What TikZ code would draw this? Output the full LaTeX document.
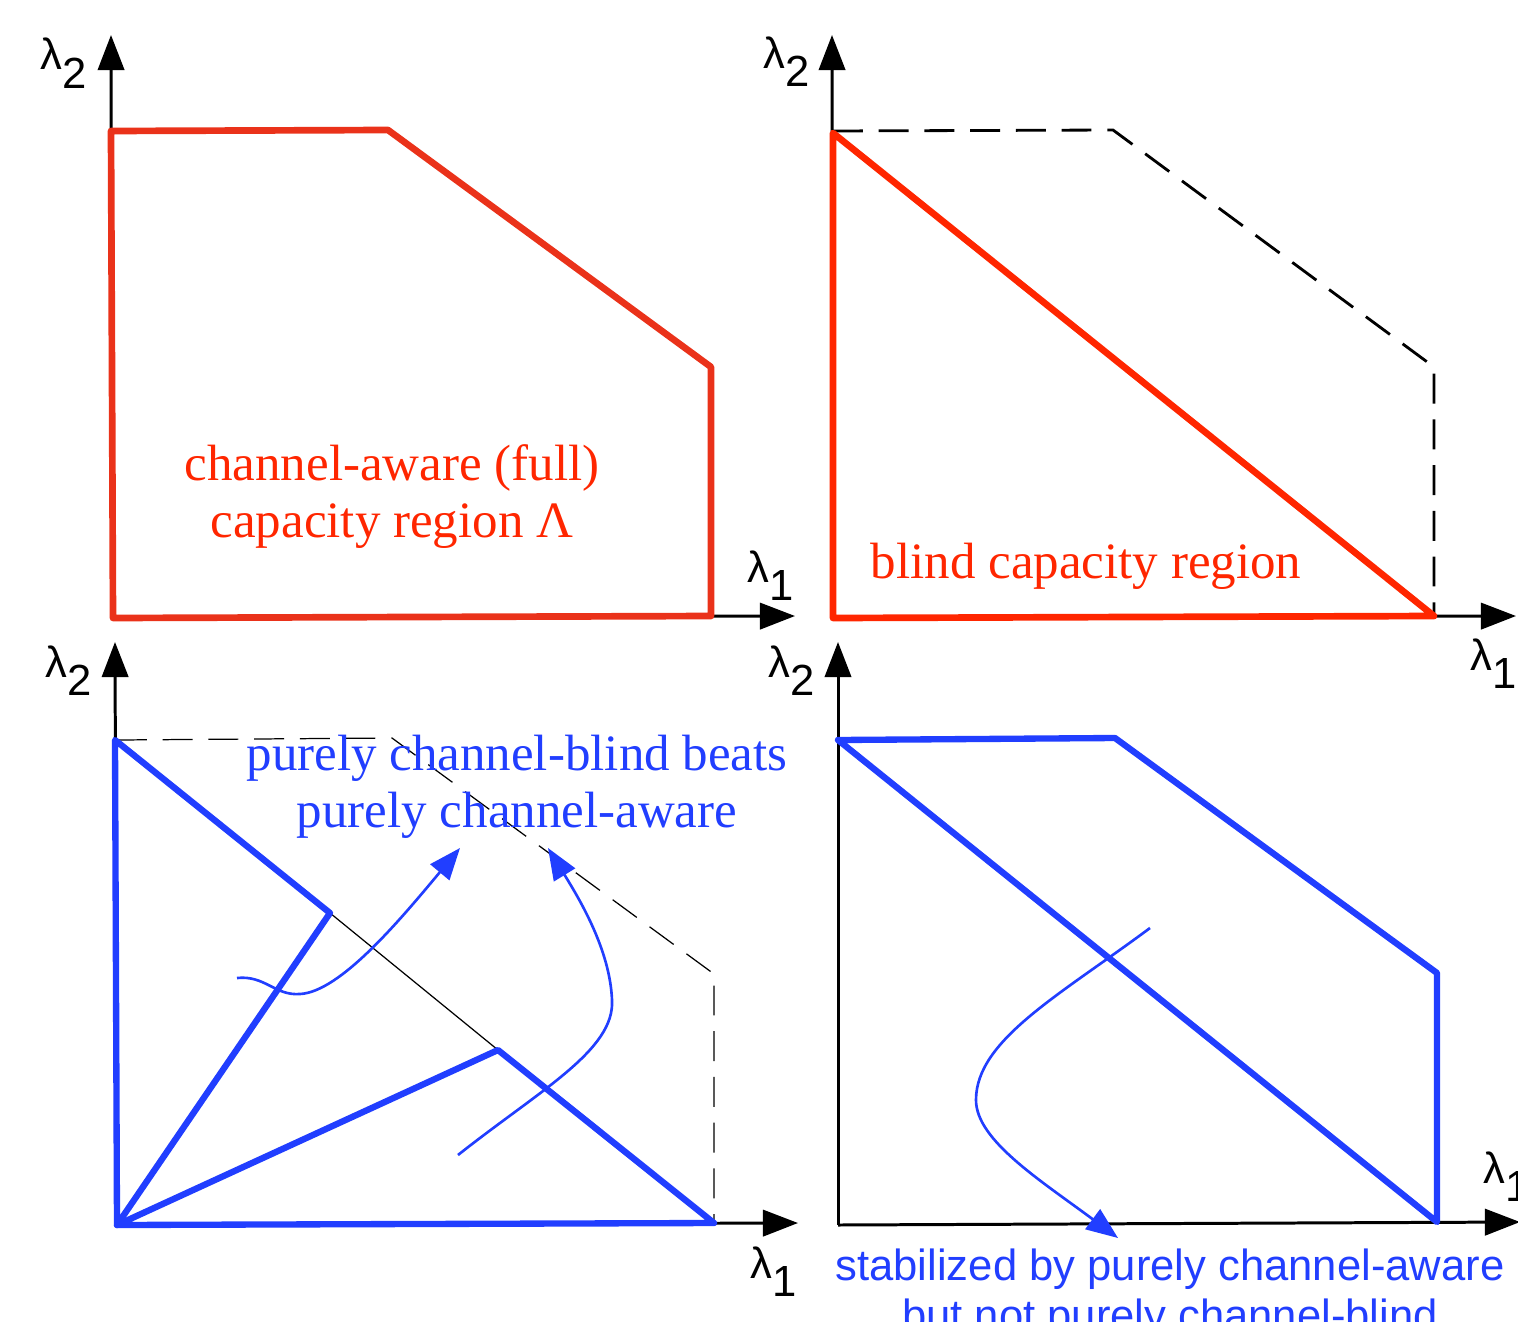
\documentclass[tikz,border=0pt]{standalone}
\usepackage{fontspec}
\setmainfont{Liberation Serif}
\newfontfamily\lamfont{Liberation Sans}
\usepackage{xcolor}
\usepackage{tikz}
\usetikzlibrary{arrows.meta}

\definecolor{awarered}{RGB}{234,50,26}
\definecolor{blindred}{RGB}{255,38,0}
\definecolor{regblue}{RGB}{33,62,255}
\newcommand{\lam}[1]{{\lamfont\fontsize{12.4}{14}\selectfont λ\raisebox{-0.42em}{#1}}}

\begin{document}
\begin{tikzpicture}[
    x=0.01cm, y=-0.01cm,
    axis/.style={line width=0.85pt, -{Triangle[length=10pt, width=7.5pt]}},
    lab/.style={anchor=base west, inner sep=0pt},
    fullreg/.style={draw=awarered, line width=1.9pt, line join=round},
    blindreg/.style={draw=blindred, line width=1.9pt, line join=round},
    bluereg/.style={draw=regblue, line width=1.8pt, line join=round},
    outline/.style={dash pattern=on 8.5pt off 4.5pt},
    flow/.style={regblue, line width=0.75pt, -{Triangle[length=9pt, width=7pt]}},
    note/.style={font=\fontsize{14.5}{16.2}\selectfont, align=center, inner sep=0pt}
]
\useasboundingbox (0,0) rectangle (1518,1321);
\clip (0,0) rectangle (1518,1321);

% Top left: full capacity region
\draw[axis] (112,618) -- (111,35);
\draw[axis] (112,618) -- (795,616);
\draw[fullreg] (113,618) -- (111,131) -- (388,130) -- (711,367) -- (711,616) -- cycle;
\node[lab] (tly) at (40,70) {\lam{2}};
\node[lab] (tlx) at (747,582) {\lam{1}};
\node[note, text=blindred] (awaretxt) at (392,497) {channel-aware (full)\\capacity region Λ};

% Top right: blind capacity region
\draw[axis] (833,618) -- (832,35);
\draw[axis] (833,618) -- (1516,616);
\draw[outline, line width=0.8pt] (833,131) -- (1113,130) -- (1434,367) -- (1434,616);
\draw[blindreg] (833,618) -- (833,133) -- (1434,616) -- cycle;
\node[lab] (try) at (763,68) {\lam{2}};
\node[lab] (trx) at (1470,670) {\lam{1}};
\node[note, text=blindred, anchor=base] (blindtxt) at (1086,578) {blind capacity region};

% Bottom left
\draw[axis] (117,1225) -- (115,642);
\draw[axis] (117,1225) -- (798,1223);
\draw[outline, line width=0.35pt] (117,740) -- (392,738) -- (714,974) -- (714,1223);
\draw[line width=0.35pt] (330,913) -- (498,1050);
\draw[bluereg] (117,1225) -- (115,740) -- (330,913) -- cycle;
\draw[bluereg] (117,1225) -- (498,1050) -- (714,1223) -- cycle;
\draw[flow] (237,978) .. controls (265,975) and (275,996) .. (300,994)
    .. controls (340,992) and (400,920) .. (460,848);
\draw[flow] (458,1155) .. controls (540,1090) and (615,1050) .. (612,1000)
    .. controls (610,950) and (580,900) .. (548,848);
\node[lab] (bly) at (45,677) {\lam{2}};
\node[lab] (blx) at (750,1278) {\lam{1}};
\node[note, text=regblue] (beatstxt) at (517,787) {purely channel-blind beats\\purely channel-aware};

% Bottom right
\draw[axis] (838,1225) -- (838,642);
\draw[axis] (838,1225) -- (1520,1222);
\draw[bluereg] (1437,1222) -- (838,740) -- (1115,738) -- (1437,973) -- cycle;
\draw[flow] (1150,928) .. controls (1060,995) and (976,1040) .. (976,1100)
    .. controls (976,1140) and (1040,1180) .. (1118,1238);
\node[lab] (bry) at (768,677) {\lam{2}};
\node[lab] (brx) at (1483,1183) {\lam{1}};
\node[note, text=regblue, font=\lamfont\fontsize{12.4}{14.2}\selectfont] (stabtxt) at (1170,1294) {stabilized by purely channel-aware\\but not purely channel-blind};

\end{tikzpicture}
\end{document}
